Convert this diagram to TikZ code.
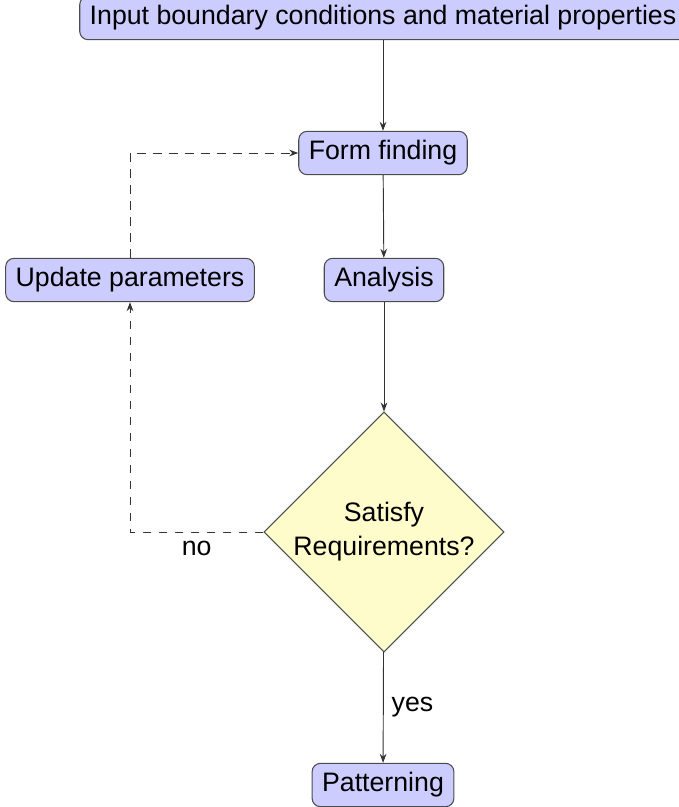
\documentclass[tikz,border=0pt]{standalone}
\usepackage{fontspec}
\setmainfont{Liberation Sans}
\usetikzlibrary{calc, shapes.geometric, arrows.meta}
\usetikzlibrary{positioning}

\tikzset{
  block/.style={rectangle, rounded corners=0.25cm, draw=black!70, fill=blue!20, line width=0.9pt, inner xsep=0.3cm, minimum height=1.3cm},
  decision/.style={diamond, draw=black!70, fill=yellow!20, line width=0.9pt, aspect=1, minimum width=7.06cm, minimum height=7.06cm, inner sep=0pt, align=center},
  flow/.style={draw=black!80, line width=0.8pt, -{Stealth[length=0.27cm, width=0.2cm]}},
  loop/.style={flow, dash pattern=on 0.26cm off 0.22cm},
}

\begin{document}
\begin{tikzpicture}[x=0.03cm, y=-0.03cm, font=\fontsize{22.8}{29}\selectfont]
        \useasboundingbox (0,0) rectangle (679,807);

        % input
        \node[block] (input) at (383,18) {Input boundary conditions and material properties};

        % form finding and analysis
        \node[block] (form) at (383,153) {Form finding};
        \node[block] (analysis) at (384,280) {Analysis};

        % update
        \node[block] (update) at (130,280) {Update parameters};

        % check
        \node[decision] (check) at (384,532) {Satisfy\\Requirements?};

        % patterning
        \node[block] (pattern) at (383,785) {Patterning};

        % main chain
        \draw[flow] (input) -- (form);
        \draw[flow] (form) -- (analysis);
        \draw[flow] (analysis) -- (check);
        \draw[flow] (check) -- node[right, xshift=0.12cm] {yes} (pattern);

        % loop back
        \draw[loop] (check.west) -| node[pos=0.25, below, yshift=-0.15cm] {no} (update.south);
        \draw[loop] (update.north) |- (form.west);

    \end{tikzpicture}
\end{document}
